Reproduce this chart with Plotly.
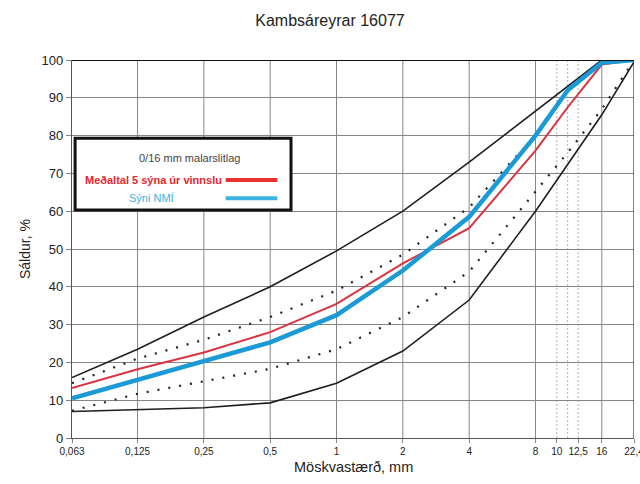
import math
import plotly.graph_objects as go

# Sieve sizes (mm) and passing percentages
sieves = [0.063, 0.125, 0.25, 0.5, 1, 2, 4, 8, 11.2, 16, 22.4]
upper_limit = [16, 23.5, 32, 40, 49.5, 60, 73, 86.5, 93, 100, 100]
lower_limit = [7, 7.5, 8, 9.3, 14.5, 23, 36.5, 60, 72.5, 85.5, 99.5]
upper_dotted = [14.5, 21, 26, 32, 39, 48.5, 61, 80, 92, 100, 100]
lower_dotted = [7.2, 11.7, 15, 18.3, 23.5, 32, 44, 65, 75.5, 87, 100]
mean_vinnsla = [13.2, 18.2, 22.6, 28, 35.5, 46.2, 55.5, 76, 87.5, 98.8, 100]
syni_nmi = [10.5, 15.3, 20.2, 25.3, 32.5, 44.3, 58.5, 80, 92, 99.3, 100]

tick_vals = [0.063, 0.125, 0.25, 0.5, 1, 2, 4, 8, 10, 12.5, 16, 22.4]
tick_text = ["0,063", "0,125", "0,25", "0,5", "1", "2", "4", "8", "10", "12,5", "16", "22,4"]
solid_grid = [0.125, 0.25, 0.5, 1, 2, 4, 8, 16]
light_grid = [10, 11.2, 12.5]

title_text = "Kambsáreyrar 16077"
legend_title = "0/16 mm malarslitlag"
red_name = "Meðaltal 5 sýna úr vinnslu"
blue_name = "Sýni NMÍ"

FONT = "Liberation Sans, Arial, sans-serif"
RED = "#dc3340"
BLUE = "#1b9ad6"
GRID = "#858585"

fig = go.Figure()

for ys in (upper_limit, lower_limit):
    fig.add_trace(go.Scatter(x=sieves, y=ys, mode="lines",
                             line=dict(color="#1e1e1e", width=1.6),
                             showlegend=False, hoverinfo="skip"))
for ys in (upper_dotted, lower_dotted):
    fig.add_trace(go.Scatter(x=sieves, y=ys, mode="lines",
                             line=dict(color="#222222", width=2.2, dash="2px,9px"),
                             showlegend=False, hoverinfo="skip"))
fig.add_trace(go.Scatter(x=sieves, y=mean_vinnsla, mode="lines", name=red_name,
                         line=dict(color=RED, width=2), showlegend=False))
fig.add_trace(go.Scatter(x=sieves, y=syni_nmi, mode="lines", name=blue_name,
                         line=dict(color=BLUE, width=4.5), showlegend=False))

shapes = []
for v in solid_grid:
    shapes.append(dict(type="line", xref="x", yref="y", x0=v, x1=v, y0=0, y1=100,
                       line=dict(color=GRID, width=1), layer="below"))
for v in light_grid:
    shapes.append(dict(type="line", xref="x", yref="y", x0=v, x1=v, y0=0, y1=100,
                       line=dict(color="#b0b0b0", width=1, dash="2px,2px"), layer="below"))
# right border and heavy top border
shapes.append(dict(type="line", xref="x", yref="y", x0=22.4, x1=22.4, y0=0, y1=100,
                   line=dict(color="#333333", width=1.2)))
shapes.append(dict(type="line", xref="x", yref="y", x0=0.063, x1=22.4, y0=100, y1=100,
                   line=dict(color="#111111", width=2.2)))

# legend box
bx0, bx1, by0, by1 = 0.0055, 0.3897, 0.6032, 0.7929
shapes.append(dict(type="rect", xref="paper", yref="paper", x0=bx0, x1=bx1, y0=by0, y1=by1,
                   fillcolor="white", line=dict(color="#111111", width=3)))
shapes.append(dict(type="line", xref="paper", yref="paper", x0=0.2735, x1=0.3653,
                   y0=0.6825, y1=0.6825, line=dict(color="#e8322e", width=4)))
shapes.append(dict(type="line", xref="paper", yref="paper", x0=0.2735, x1=0.3653,
                   y0=0.634, y1=0.634, line=dict(color="#3cb2e2", width=4)))

annotations = [
    dict(text=legend_title, xref="paper", yref="paper", x=0.2085, y=0.740,
         xanchor="center", yanchor="middle", showarrow=False,
         font=dict(family=FONT, size=11, color="#444444")),
    dict(text="<b>" + red_name + "</b>", xref="paper", yref="paper", x=0.2700, y=0.6825,
         xanchor="right", yanchor="middle", showarrow=False,
         font=dict(family=FONT, size=11, color="#e8262b")),
    dict(text=blue_name, xref="paper", yref="paper", x=0.0973, y=0.634,
         xanchor="left", yanchor="middle", showarrow=False,
         font=dict(family=FONT, size=11, color="#3cb2e2")),
    dict(text="Möskvastærð, mm", xref="paper", yref="paper", x=0.5, y=-29 / 378,
         xanchor="center", yanchor="middle", showarrow=False,
         font=dict(family=FONT, size=14.5, color="#222222")),
    dict(text="Sáldur, %", xref="paper", yref="paper", x=-47 / 562, y=0.5,
         xanchor="center", yanchor="middle", textangle=-90, showarrow=False,
         font=dict(family=FONT, size=14, color="#222222")),
]

fig.update_layout(
    width=640, height=484,
    margin=dict(l=72, r=6, t=60, b=46),
    paper_bgcolor="white", plot_bgcolor="white",
    title=dict(text=title_text, x=330 / 640, xref="container", xanchor="center",
               y=1 - 20 / 484, yanchor="middle",
               font=dict(family=FONT, size=16, color="#222222")),
    xaxis=dict(type="log", range=[math.log10(0.063), math.log10(22.4)],
               tickvals=tick_vals, ticktext=tick_text, showgrid=False,
               ticks="outside", ticklen=4, tickcolor=GRID,
               ticklabeloverflow="allow", automargin=False,
               showline=True, linecolor="#555555", linewidth=1.2,
               tickfont=dict(family=FONT, size=10, color="#222222"), zeroline=False),
    yaxis=dict(range=[0, 100], tickvals=list(range(0, 101, 10)),
               showgrid=True, gridcolor=GRID, gridwidth=1,
               ticks="outside", ticklen=5, tickcolor=GRID, automargin=False,
               showline=True, linecolor="#555555", linewidth=1.2,
               tickfont=dict(family=FONT, size=13, color="#222222"), zeroline=False),
    shapes=shapes, annotations=annotations,
)

fig.write_html("out.html")
